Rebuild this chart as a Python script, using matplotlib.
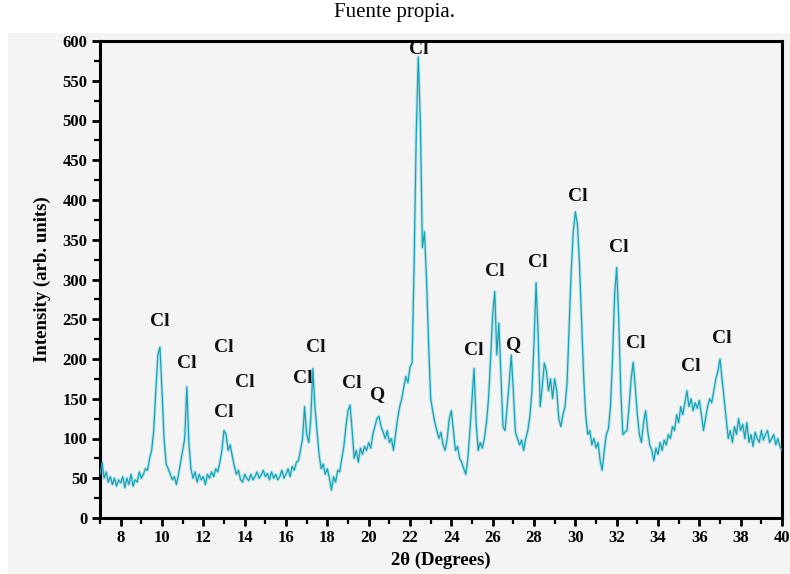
import numpy as np
import matplotlib
matplotlib.use("Agg")
import matplotlib.pyplot as plt
from matplotlib.ticker import MultipleLocator
from matplotlib.patches import Rectangle

plt.rcParams['font.family'] = ['Liberation Serif', 'DejaVu Serif']

# intensity, one row per degree (x.0 .. x.9), 7 -> 39, then 40.0
intensity_rows = [
    [55, 70, 50, 58, 45, 52, 42, 50, 40, 48],          # 7
    [44, 52, 38, 50, 42, 55, 40, 48, 45, 58],          # 8
    [50, 55, 62, 60, 75, 85, 110, 160, 205, 215],      # 9
    [160, 100, 68, 62, 55, 48, 52, 42, 55, 70],        # 10
    [85, 100, 165, 95, 62, 50, 58, 45, 55, 48],        # 11
    [52, 42, 55, 50, 58, 52, 62, 58, 70, 85],          # 12
    [110, 105, 85, 92, 78, 65, 55, 60, 48, 45],        # 13
    [55, 50, 47, 55, 48, 52, 58, 50, 54, 60],          # 14
    [52, 56, 48, 58, 50, 55, 48, 52, 60, 50],          # 15
    [55, 62, 52, 65, 60, 70, 72, 85, 100, 140],        # 16
    [105, 95, 125, 188, 140, 110, 80, 62, 68, 55],     # 17
    [62, 50, 35, 52, 45, 60, 58, 75, 90, 115],         # 18
    [135, 142, 110, 75, 85, 70, 88, 80, 90, 85],       # 19
    [95, 88, 105, 115, 125, 128, 115, 108, 100, 110],  # 20
    [95, 100, 85, 105, 125, 140, 150, 165, 178, 170],  # 21
    [190, 195, 320, 480, 580, 500, 340, 360, 300, 220],  # 22
    [150, 135, 120, 110, 100, 108, 92, 85, 100, 125],  # 23
    [135, 110, 85, 90, 75, 70, 62, 55, 75, 110],       # 24
    [150, 188, 120, 85, 95, 88, 100, 120, 150, 200],   # 25
    [255, 285, 205, 245, 180, 115, 110, 140, 170, 205],  # 26
    [160, 108, 100, 92, 98, 85, 100, 110, 128, 160],   # 27
    [220, 296, 230, 140, 165, 195, 185, 160, 175, 150],  # 28
    [175, 160, 125, 115, 130, 140, 170, 240, 310, 360],  # 29
    [385, 370, 320, 250, 180, 130, 105, 110, 92, 100],  # 30
    [88, 95, 72, 60, 85, 105, 112, 140, 200, 280],     # 31
    [315, 250, 160, 105, 108, 110, 140, 175, 196, 165],  # 32
    [130, 105, 95, 120, 135, 110, 92, 85, 72, 88],     # 33
    [80, 95, 85, 98, 92, 105, 100, 115, 110, 130],     # 34
    [120, 140, 130, 145, 160, 140, 150, 135, 145, 138],  # 35
    [148, 130, 110, 125, 140, 150, 145, 160, 175, 185],  # 36
    [200, 175, 150, 125, 100, 110, 95, 115, 105, 125],  # 37
    [110, 118, 100, 120, 95, 105, 90, 108, 100, 95],   # 38
    [110, 98, 105, 110, 95, 100, 105, 92, 100, 90],    # 39
]
intensity_end = [85]  # 40.0

# peak labels (text, 2theta, intensity)
peak_labels = ["Cl", "Cl", "Cl", "Cl", "Cl", "Cl", "Cl", "Cl", "Q",
               "Cl", "Cl", "Q", "Cl", "Cl", "Cl", "Cl", "Cl", "Cl", "Cl"]
label_x = [9.9, 11.2, 13.0, 14.0, 13.0, 16.8, 17.45, 19.2, 20.45,
           22.43, 25.1, 27.0, 26.1, 28.2, 30.1, 32.1, 32.95, 35.6, 37.1]
label_y = [247, 194, 215, 171, 133, 175, 214, 169, 155,
           589, 211, 218, 310, 322, 404, 340, 220, 190, 226]

intensity = np.array([v for row in intensity_rows for v in row] + intensity_end, dtype=float)
two_theta = 7.0 + 0.1 * np.arange(len(intensity))

fig = plt.figure(figsize=(7.9, 5.74), dpi=100)
fig.patch.set_facecolor("white")
# greyish scan background below the caption
fig.patches.append(Rectangle((8 / 790, 0), 1, 1 - 33 / 574, transform=fig.transFigure,
                             facecolor="#f4f4f4", edgecolor="none", zorder=-10))

ax = fig.add_axes([100 / 790, 1 - 518 / 574, 682 / 790, 477 / 574])
ax.set_facecolor("#f4f4f4")

# soft halo + core line, like the scanned trace
ax.plot(two_theta, intensity, color="#a6dde4", lw=2.4, alpha=0.7, zorder=2)
ax.plot(two_theta, intensity, color="#17a3b6", lw=0.9, zorder=3)

for t, x, y in zip(peak_labels, label_x, label_y):
    ax.text(x, y, t, ha="center", va="center", fontsize=14, fontweight="bold",
            color="#111111", zorder=4)

ax.set_xlim(7, 40)
ax.set_ylim(0, 600)
ax.xaxis.set_minor_locator(MultipleLocator(1))
ax.yaxis.set_major_locator(MultipleLocator(50))
ax.yaxis.set_minor_locator(MultipleLocator(25))
ax.set_xticks(np.arange(8, 41, 2))

ax.tick_params(which="major", direction="out", length=6, width=2, labelsize=12,
               top=False, right=False, pad=3)
ax.tick_params(which="minor", direction="out", length=4, width=1.6,
               top=False, right=False)
for lab in ax.get_xticklabels() + ax.get_yticklabels():
    lab.set_fontweight("bold")
for s in ax.spines.values():
    s.set_linewidth(2.2)

ax.set_xlabel("2θ (Degrees)", fontsize=13.5, fontweight="bold", labelpad=4)
ax.set_ylabel("Intensity (arb. units)", fontsize=13.5, fontweight="bold", labelpad=8)

fig.text(395 / 790, 1 - 12 / 574, "Fuente propia.", ha="center", va="center", fontsize=15)

fig.savefig("out.png", dpi=100, facecolor=fig.get_facecolor())
